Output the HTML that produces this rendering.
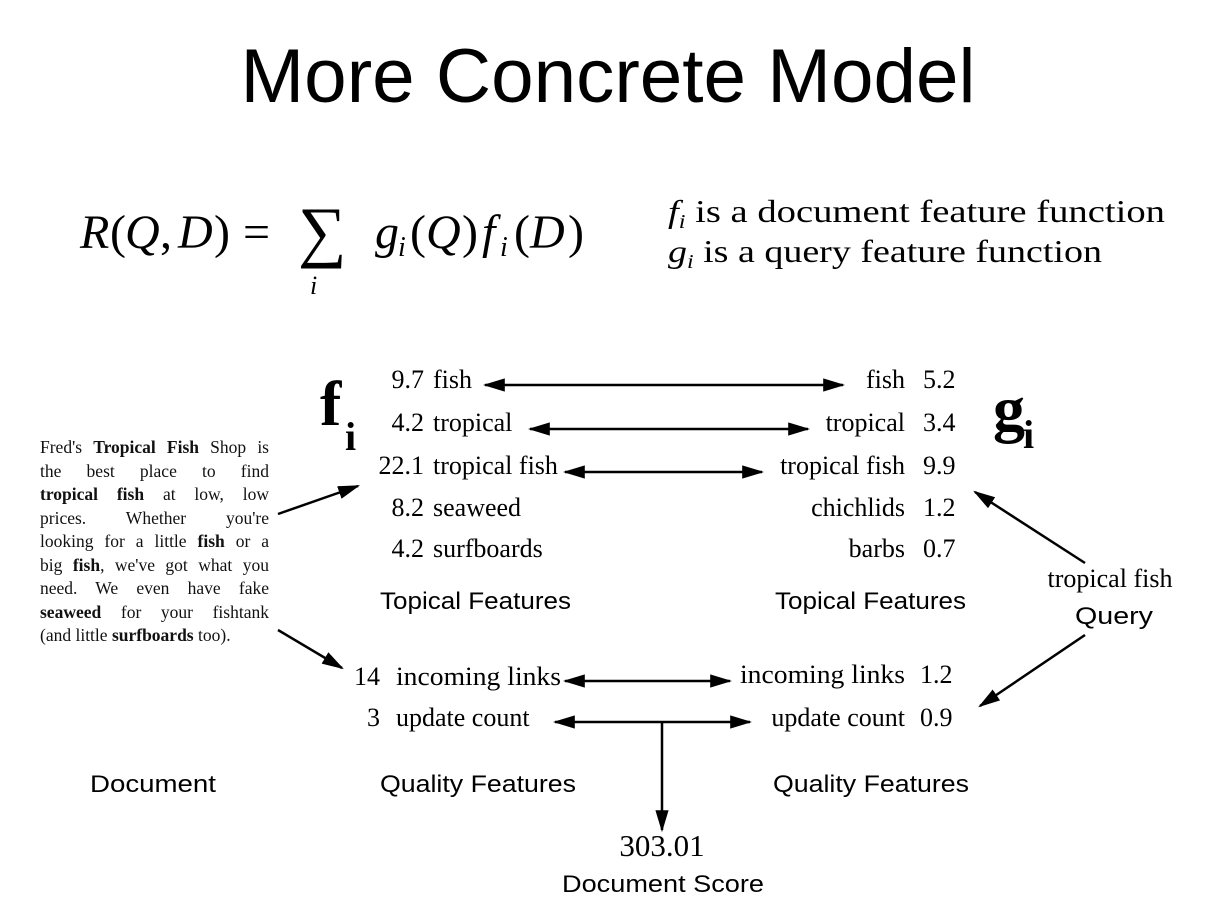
<!DOCTYPE html>
<html><head><meta charset="utf-8"><style>
body{margin:0;width:1230px;height:922px;background:#fff;overflow:hidden;position:relative;font-family:"Liberation Serif",serif;}
svg{position:absolute;left:0;top:0}
#para{position:absolute;left:40px;top:436px;width:229px;font-size:17.5px;line-height:23.5px;color:#111;font-family:"Liberation Serif",serif;}
#para div{text-align:justify;text-align-last:justify;white-space:nowrap;height:23.5px}
#para div.l{text-align-last:left}
</style></head><body>
<svg width="1230" height="922" viewBox="0 0 1230 922">
<defs>
<marker id="b" viewBox="0 0 10 10" refX="9" refY="5" markerWidth="22" markerHeight="22" markerUnits="userSpaceOnUse" orient="auto-start-reverse"><path d="M0,2L10,5L0,8z" fill="#000"/></marker></defs>
<text x="608" y="102" text-anchor="middle" font-family="Liberation Sans,sans-serif" font-size="76" textLength="735" lengthAdjust="spacingAndGlyphs">More Concrete Model</text>
<g font-family="Liberation Serif,serif" font-size="48">
<text x="80" y="248" font-style="italic">R</text><text x="110" y="248">(</text><text x="125" y="248" font-style="italic">Q</text><text x="160" y="248">,</text><text x="178" y="248" font-style="italic">D</text><text x="214" y="248">)</text><text x="243" y="248">=</text>
<text x="298" y="254" font-size="68">∑</text><text x="310" y="294" font-size="26" font-style="italic">i</text>
<text x="375" y="248" font-style="italic">g</text><text x="398" y="256" font-size="28" font-style="italic">i</text><text x="410" y="248">(</text><text x="426" y="248" font-style="italic">Q</text><text x="462" y="248">)</text>
<text x="482" y="248" font-style="italic">f</text><text x="500" y="256" font-size="28" font-style="italic">i</text><text x="514" y="248">(</text><text x="530" y="248" font-style="italic">D</text><text x="568" y="248">)</text>
</g>
<g font-family="Liberation Serif,serif" font-size="32">
<text x="668" y="222" textLength="497" lengthAdjust="spacingAndGlyphs"><tspan font-style="italic">f</tspan><tspan font-style="italic" font-size="20" dy="6">i</tspan><tspan dy="-6"> is a document feature function</tspan></text>
<text x="668" y="262" textLength="434" lengthAdjust="spacingAndGlyphs"><tspan font-style="italic">g</tspan><tspan font-style="italic" font-size="20" dy="6">i</tspan><tspan dy="-6"> is a query feature function</tspan></text>
</g>
<g font-family="Liberation Serif,serif" font-weight="bold"><text x="320" y="425" font-size="64">f</text><text x="345" y="450" font-size="40">i</text>
<text x="993" y="430" font-size="64">g</text><text x="1023" y="448" font-size="40">i</text></g>
<g font-family="Liberation Serif,serif" font-size="26">
<text x="424" y="388" text-anchor="end">9.7</text><text x="433" y="388">fish</text>
<text x="424" y="431" text-anchor="end">4.2</text><text x="433" y="431">tropical</text>
<text x="424" y="474" text-anchor="end">22.1</text><text x="433" y="474">tropical fish</text>
<text x="424" y="516" text-anchor="end">8.2</text><text x="433" y="516">seaweed</text>
<text x="424" y="557" text-anchor="end">4.2</text><text x="433" y="557">surfboards</text>
<text x="905" y="388" text-anchor="end">fish</text><text x="923" y="388">5.2</text>
<text x="905" y="431" text-anchor="end">tropical</text><text x="923" y="431">3.4</text>
<text x="905" y="474" text-anchor="end">tropical fish</text><text x="923" y="474">9.9</text>
<text x="905" y="516" text-anchor="end">chichlids</text><text x="923" y="516">1.2</text>
<text x="905" y="557" text-anchor="end">barbs</text><text x="923" y="557">0.7</text>
<text x="380" y="685" text-anchor="end">14</text><text x="396" y="685" textLength="165" lengthAdjust="spacingAndGlyphs">incoming links</text>
<text x="380" y="726" text-anchor="end">3</text><text x="396" y="726">update count</text>
<text x="905" y="683" text-anchor="end" textLength="165" lengthAdjust="spacingAndGlyphs">incoming links</text><text x="920" y="683">1.2</text>
<text x="905" y="726" text-anchor="end">update count</text><text x="920" y="726">0.9</text>
<text x="1110" y="587" text-anchor="middle">tropical fish</text>
<text x="662" y="856" text-anchor="middle" font-size="31">303.01</text>
</g>
<g font-family="Liberation Sans,sans-serif" font-size="24">
<text x="380" y="609" textLength="191" lengthAdjust="spacingAndGlyphs">Topical Features</text>
<text x="775" y="609" textLength="191" lengthAdjust="spacingAndGlyphs">Topical Features</text>
<text x="380" y="792" textLength="196" lengthAdjust="spacingAndGlyphs">Quality Features</text>
<text x="773" y="792" textLength="196" lengthAdjust="spacingAndGlyphs">Quality Features</text>
<text x="90" y="792" textLength="126" lengthAdjust="spacingAndGlyphs">Document</text>
<text x="1075" y="624" textLength="78" lengthAdjust="spacingAndGlyphs">Query</text>
<text x="562" y="892" textLength="202" lengthAdjust="spacingAndGlyphs">Document Score</text>
</g>
<g stroke="#000" stroke-width="2.5" fill="none">
<line x1="485" y1="385" x2="843" y2="385" marker-start="url(#b)" marker-end="url(#b)"/>
<line x1="530" y1="429" x2="808" y2="429" marker-start="url(#b)" marker-end="url(#b)"/>
<line x1="565" y1="472" x2="762" y2="472" marker-start="url(#b)" marker-end="url(#b)"/>
<line x1="565" y1="681" x2="730" y2="681" marker-start="url(#b)" marker-end="url(#b)"/>
<line x1="555" y1="722" x2="750" y2="722" marker-start="url(#b)" marker-end="url(#b)"/>
<line x1="662" y1="722" x2="662" y2="830" marker-end="url(#b)"/>
<line x1="278" y1="514" x2="358" y2="486" marker-end="url(#b)"/>
<line x1="278" y1="630" x2="342" y2="668" marker-end="url(#b)"/>
<line x1="1085" y1="563" x2="975" y2="492" marker-end="url(#b)"/>
<line x1="1085" y1="635" x2="980" y2="706" marker-end="url(#b)"/>
</g>
</svg>
<div id="para">
<div>Fred's <b>Tropical Fish</b> Shop is</div>
<div>the best place to find</div>
<div><b>tropical fish</b> at low, low</div>
<div>prices. Whether you're</div>
<div>looking for a little <b>fish</b> or a</div>
<div>big <b>fish</b>, we've got what you</div>
<div>need. We even have fake</div>
<div><b>seaweed</b> for your fishtank</div>
<div class="l">(and little <b>surfboards</b> too).</div>
</div>
</body></html>
